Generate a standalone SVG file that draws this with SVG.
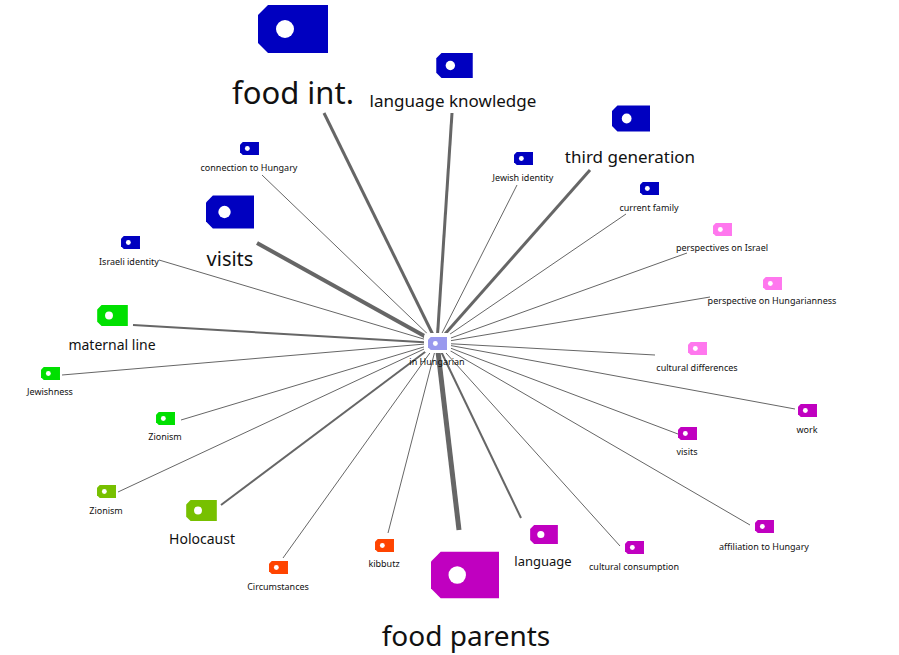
<svg xmlns="http://www.w3.org/2000/svg" xmlns:xlink="http://www.w3.org/1999/xlink" width="899" height="655" viewBox="0 0 899 655">
<style>
text{font-family:"Noto Sans","DejaVu Sans",sans-serif;fill:#111;text-anchor:middle}
.s{font-size:9px}.m{font-size:13px}
line{stroke:#666;stroke-width:1}
.w2{stroke-width:2}.w3{stroke-width:3}.w4{stroke-width:4}.w5{stroke-width:5}
</style>
<defs>
<symbol id="tag" viewBox="0 0 70 48"><path d="M10,0H70V48H10L0,38V10Z" fill="currentColor"/><circle cx="27" cy="24" r="9" fill="#fff"/></symbol>
</defs>
<rect width="899" height="655" fill="#fff"/>
<g id="connectors">
<line class="w3" x1="324" y1="113" x2="437" y2="343"/>
<line class="w3" x1="452" y1="113" x2="437" y2="343"/>
<line class="w3" x1="590" y1="170" x2="437" y2="343"/>
<line x1="262" y1="175" x2="437" y2="343"/>
<line x1="517" y1="185" x2="437" y2="343"/>
<line x1="626" y1="214" x2="437" y2="343"/>
<line class="w4" x1="257" y1="243" x2="437" y2="343"/>
<line x1="159" y1="260" x2="437" y2="343"/>
<line x1="687" y1="253" x2="437" y2="343"/>
<line x1="710" y1="297" x2="437" y2="343"/>
<line class="w2" x1="133" y1="325" x2="437" y2="343"/>
<line x1="62" y1="375" x2="437" y2="343"/>
<line x1="655" y1="355" x2="437" y2="343"/>
<line x1="795" y1="409" x2="437" y2="343"/>
<line x1="181" y1="420" x2="437" y2="343"/>
<line x1="678" y1="434" x2="437" y2="343"/>
<line x1="118" y1="492" x2="437" y2="343"/>
<line class="w2" x1="221" y1="505" x2="437" y2="343"/>
<line x1="750" y1="525" x2="437" y2="343"/>
<line class="w2" x1="521" y1="518" x2="437" y2="343"/>
<line x1="620" y1="546" x2="437" y2="343"/>
<line x1="388" y1="533" x2="437" y2="343"/>
<line x1="283" y1="558" x2="437" y2="343"/>
<line class="w5" x1="459" y1="530" x2="437" y2="343"/>
</g>
<g id="n-center"><rect x="424" y="333" width="27" height="20" rx="4" fill="#fff"/><use href="#tag" x="428" y="337" width="19" height="13" color="#9999EE"/><text class="s" x="437" y="365">in Hungarian</text></g>
<g id="n1"><use href="#tag" x="258" y="5" width="70" height="48" color="#0000C0"/><text x="293" y="104" font-size="31">food int.</text></g>
<g id="n2"><use href="#tag" x="436" y="53" width="37" height="25" color="#0000C0"/><text x="453" y="107" font-size="17">language knowledge</text></g>
<g id="n3"><use href="#tag" x="612" y="105" width="38" height="27" color="#0000C0"/><text x="630" y="163" font-size="17">third generation</text></g>
<g id="n4"><use href="#tag" x="240" y="142" width="19" height="13" color="#0000C0"/><text class="s" x="249" y="171">connection to Hungary</text></g>
<g id="n5"><use href="#tag" x="514" y="152" width="19" height="13" color="#0000C0"/><text class="s" x="523" y="181">Jewish identity</text></g>
<g id="n6"><use href="#tag" x="640" y="182" width="19" height="13" color="#0000C0"/><text class="s" x="649" y="211">current family</text></g>
<g id="n7"><use href="#tag" x="206" y="195" width="48" height="34" color="#0000C0"/><text x="230" y="266" font-size="20">visits</text></g>
<g id="n8"><use href="#tag" x="121" y="236" width="19" height="13" color="#0000C0"/><text class="s" x="129" y="265">Israeli identity</text></g>
<g id="n9"><use href="#tag" x="713" y="223" width="19" height="13" color="#FF77EE"/><text class="s" x="722" y="251">perspectives on Israel</text></g>
<g id="n10"><use href="#tag" x="763" y="277" width="19" height="13" color="#FF77EE"/><text class="s" x="772" y="304">perspective on Hungarianness</text></g>
<g id="n11"><use href="#tag" x="97" y="305" width="31" height="21" color="#00E000"/><text x="112" y="350" font-size="14">maternal line</text></g>
<g id="n12"><use href="#tag" x="41" y="367" width="19" height="13" color="#00E000"/><text class="s" x="50" y="395">Jewishness</text></g>
<g id="n13"><use href="#tag" x="688" y="342" width="19" height="13" color="#FF77EE"/><text class="s" x="697" y="371">cultural differences</text></g>
<g id="n14"><use href="#tag" x="798" y="404" width="19" height="13" color="#C000C0"/><text class="s" x="807" y="433">work</text></g>
<g id="n15"><use href="#tag" x="156" y="412" width="19" height="13" color="#00E000"/><text class="s" x="165" y="440">Zionism</text></g>
<g id="n16"><use href="#tag" x="678" y="427" width="19" height="13" color="#C000C0"/><text class="s" x="687" y="455">visits</text></g>
<g id="n17"><use href="#tag" x="97" y="485" width="19" height="13" color="#77C000"/><text class="s" x="106" y="514">Zionism</text></g>
<g id="n18"><use href="#tag" x="186" y="500" width="31" height="21" color="#77C000"/><text x="202" y="544" font-size="14">Holocaust</text></g>
<g id="n19"><use href="#tag" x="755" y="520" width="19" height="13" color="#C000C0"/><text class="s" x="764" y="550">affiliation to Hungary</text></g>
<g id="n20"><use href="#tag" x="530" y="525" width="28" height="19" color="#C000C0"/><text class="m" x="543" y="566">language</text></g>
<g id="n21"><use href="#tag" x="625" y="541" width="19" height="13" color="#C000C0"/><text class="s" x="634" y="570">cultural consumption</text></g>
<g id="n22"><use href="#tag" x="375" y="539" width="19" height="13" color="#FF4400"/><text class="s" x="384" y="567">kibbutz</text></g>
<g id="n23"><use href="#tag" x="269" y="561" width="19" height="13" color="#FF4400"/><text class="s" x="278" y="590">Circumstances</text></g>
<g id="n24"><use href="#tag" x="431" y="551" width="68" height="48" color="#C000C0"/><text x="466" y="646" font-size="28">food parents</text></g>
</svg>
